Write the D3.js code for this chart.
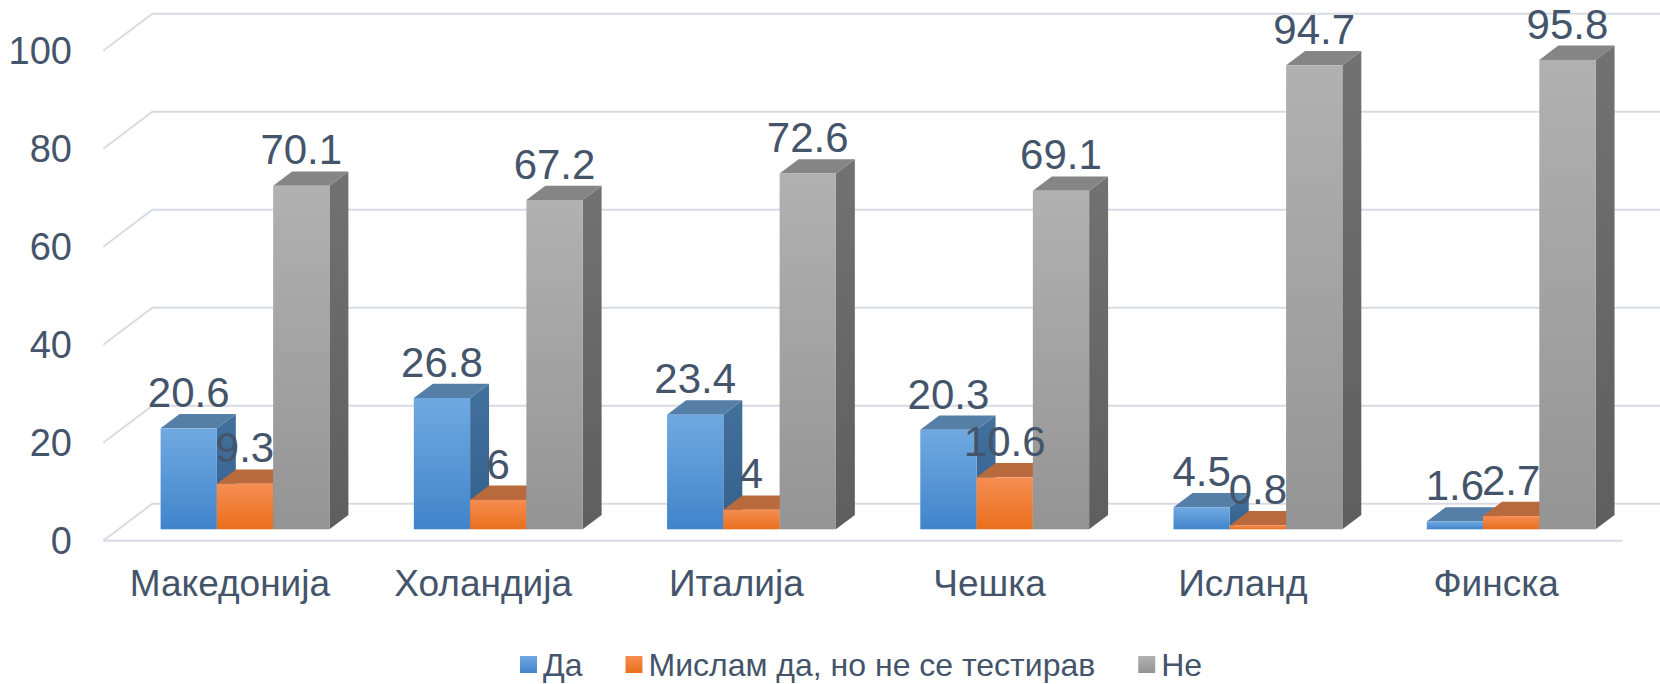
<!DOCTYPE html>
<html>
<head>
<meta charset="utf-8">
<script src="https://cdn.jsdelivr.net/npm/d3@7/dist/d3.min.js"></script>
<style>
  html, body { margin: 0; padding: 0; background: #ffffff; }
  svg { display: block; font-family: "Liberation Sans", Arial, sans-serif; }
</style>
</head>
<body>
<script>
// ---- data ----
const categories = ["Македонија", "Холандија", "Италија", "Чешка", "Исланд", "Финска"];
const seriesNames = ["Да", "Мислам да, но не се тестирав", "Не"];
const daValues = [20.6, 26.8, 23.4, 20.3, 4.5, 1.6];
const mislamValues = [9.3, 6, 4, 10.6, 0.8, 2.7];
const neValues = [70.1, 67.2, 72.6, 69.1, 94.7, 95.8];
const yTicks = [0, 20, 40, 60, 80, 100];

const seriesValues = [daValues, mislamValues, neValues];

// ---- layout ----
const W = 1660, H = 684;
const floorX0 = 103.3, floorX1 = 1622.7;
const floorY0 = 540.7, plotH = 490;
const depthDX = 49, depthDY = 37;
const dFront = 0.308, dBack = 0.695;
const textColor = "#44546a";
const gridColor = "#d9dbe4";

const svg = d3.select("body").append("svg").attr("width", W).attr("height", H);
svg.append("rect").attr("width", W).attr("height", H).attr("fill", "#fff");

const x0 = d3.scaleBand().domain(categories).range([floorX0, floorX1]).padding(0);
const x1 = d3.scaleBand().domain(seriesNames).range([0, x0.bandwidth()]).paddingInner(0).paddingOuter(0.75);
const y = d3.scaleLinear().domain([0, 100]).range([floorY0, floorY0 - plotH]);

function P(x, v, d) { return [x + d * depthDX, y(v) - d * depthDY]; }

// ---- gradients ----
const defs = svg.append("defs");
const styles = [
  { front: ["#70a9e1", "#4184cb"], top: "#567fa8", side: ["#43719d", "#335f8b"] },
  { front: ["#f68d52", "#e96f1c"], top: "#b86a3d", side: ["#a95c2f", "#94501f"] },
  { front: ["#b1b1b1", "#949494"], top: "#858585", side: ["#727272", "#5e5e5e"] }
];
styles.forEach((st, i) => {
  ["front", "side"].forEach(k => {
    const g = defs.append("linearGradient").attr("id", `g${k}${i}`)
      .attr("x1", 0).attr("y1", 0).attr("x2", 0).attr("y2", 1);
    g.append("stop").attr("offset", "0%").attr("stop-color", st[k][0]);
    g.append("stop").attr("offset", "100%").attr("stop-color", st[k][1]);
  });
});

// ---- gridlines (walls + floor) ----
const grid = svg.append("g").attr("stroke", gridColor).attr("stroke-width", 2).attr("fill", "none");
yTicks.forEach(t => {
  const a = P(floorX0, t, 0), b = P(floorX0, t, 1), c = P(floorX1, t, 1);
  grid.append("path").attr("d", d3.line()([a, b, c]));
  if (t === 0) {
    grid.append("path").attr("d", d3.line()([a, P(floorX1, 0, 0)]));
  }
});

// ---- y axis labels ----
svg.append("g").selectAll("text").data(yTicks).join("text")
  .attr("x", 72).attr("y", d => y(d) + 13.5)
  .attr("text-anchor", "end").attr("font-size", 38).attr("fill", textColor)
  .text(d => d);

// ---- bars ----
const barsG = svg.append("g");
const w = x1.bandwidth();
categories.forEach((c, ci) => {
  seriesNames.forEach((s, si) => {
    const v = seriesValues[si][ci];
    const xl = x0(c) + x1(s);
    const g = barsG.append("g");
    const side = [P(xl + w, v, dFront), P(xl + w, v, dBack), P(xl + w, 0, dBack), P(xl + w, 0, dFront)];
    g.append("path").attr("d", d3.line()(side) + "Z").attr("fill", `url(#gside${si})`);
    const top = [P(xl, v, dFront), P(xl + w, v, dFront), P(xl + w, v, dBack), P(xl, v, dBack)];
    g.append("path").attr("d", d3.line()(top) + "Z").attr("fill", styles[si].top);
    const f0 = P(xl, v, dFront), f1 = P(xl + w, 0, dFront);
    g.append("rect").attr("x", f0[0]).attr("y", f0[1])
      .attr("width", f1[0] - f0[0]).attr("height", Math.max(0, f1[1] - f0[1]))
      .attr("fill", `url(#gfront${si})`);
  });
});

// ---- data labels ----
const labelsG = svg.append("g");
categories.forEach((c, ci) => {
  seriesNames.forEach((s, si) => {
    const v = seriesValues[si][ci];
    const xl = x0(c) + x1(s);
    const cx = P(xl + w / 2, v, dFront)[0];
    const by = P(xl, v, dBack)[1] - 7;
    labelsG.append("text").attr("x", cx).attr("y", by)
      .attr("text-anchor", "middle").attr("font-size", 42).attr("fill", textColor)
      .text(String(v));
  });
});

// ---- category labels ----
svg.append("g").selectAll("text").data(categories).join("text")
  .attr("x", d => x0(d) + x0.bandwidth() / 2).attr("y", 596)
  .attr("text-anchor", "middle").attr("font-size", 37).attr("fill", textColor)
  .text(d => d);

// ---- legend ----
const legend = svg.append("g");
let lx = 520;
seriesNames.forEach((s, si) => {
  legend.append("rect").attr("x", lx).attr("y", 656).attr("width", 17).attr("height", 17)
    .attr("fill", `url(#gfront${si})`);
  const t = legend.append("text").attr("x", lx + 23).attr("y", 676)
    .attr("font-size", 32).attr("fill", textColor).text(s);
  lx += 23 + t.node().getComputedTextLength() + 43;
});
</script>
</body>
</html>
